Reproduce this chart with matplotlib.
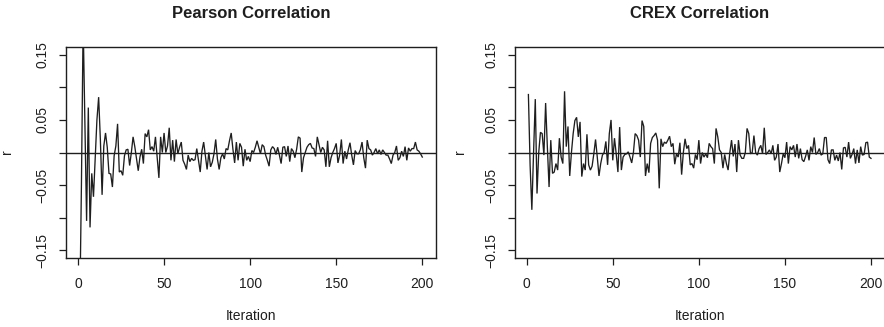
import numpy as np
import matplotlib
matplotlib.use("Agg")
import matplotlib.pyplot as plt

plt.rcParams['font.family'] = ['Liberation Sans', 'DejaVu Sans']

iterations = list(range(1, 201))

pearson_r = [
    -0.25, -0.05, 0.20, 0.05, -0.105, 0.069, -0.115, -0.032, -0.068, -0.01,
    0.05, 0.085, 0.02, -0.065, 0.01, 0.03, 0.008, -0.032, -0.033, -0.053,
    -0.005, 0.01, 0.044, -0.03, -0.028, -0.035, -0.005, 0.004, 0.005, -0.02,
    0.0, 0.024, 0.009, -0.01, -0.028, -0.007, 0.005, -0.017, 0.029, 0.024,
    0.035, 0.004, 0.009, 0.002, 0.024, -0.007, -0.039, 0.024, 0.0, 0.03,
    0.0, 0.01, 0.038, -0.012, 0.019, -0.014, 0.02, -0.002, 0.008, 0.016,
    -0.012, -0.018, -0.026, -0.004, -0.014, -0.009, -0.012, -0.011, 0.006, -0.012,
    -0.03, 0.002, 0.016, -0.005, -0.026, 0.0, -0.022, -0.015, -0.002, 0.02,
    -0.01, -0.026, -0.008, -0.002, -0.01, 0.006, 0.004, 0.018, 0.03, 0.005,
    -0.016, 0.016, -0.012, 0.014, 0.008, -0.021, 0.005, -0.012, -0.006, -0.014,
    0.003, 0.0, 0.008, 0.018, 0.008, -0.002, 0.012, 0.009, -0.004, -0.012,
    -0.021, 0.004, 0.009, 0.006, -0.003, 0.008, -0.004, -0.017, 0.008, 0.009,
    -0.006, 0.01, -0.014, 0.006, 0.002, -0.008, 0.005, 0.024, 0.022, -0.03,
    -0.008, 0.0, 0.008, 0.012, 0.014, 0.007, 0.006, -0.006, 0.024, 0.012,
    0.0, 0.008, 0.004, -0.022, 0.018, -0.022, -0.008, 0.0, 0.006, 0.014,
    -0.016, -0.004, 0.02, -0.017, 0.002, -0.01, 0.004, 0.015, -0.004, -0.019,
    0.003, -0.002, -0.002, 0.004, 0.016, -0.008, -0.024, 0.019, 0.006, 0.004,
    -0.004, 0.0, 0.006, -0.002, 0.004, -0.003, 0.004, 0.0, -0.004, -0.004,
    -0.01, -0.017, -0.004, 0.0, 0.01, -0.012, -0.008, 0.002, -0.006, 0.009,
    -0.012, 0.007, 0.002, 0.006, 0.006, 0.016, 0.004, 0.002, -0.002, -0.007,
]

crex_r = [
    0.089, -0.02, -0.088, 0.0, 0.082, -0.063, 0.0, 0.031, 0.029, -0.004,
    0.076, 0.009, -0.053, 0.019, -0.032, -0.03, -0.017, -0.027, 0.022, -0.007,
    -0.017, 0.094, 0.009, 0.04, -0.036, 0.0, 0.029, 0.049, 0.054, 0.024,
    0.047, -0.037, -0.017, -0.027, 0.028, -0.019, -0.027, -0.021, -0.002, 0.02,
    -0.007, -0.036, -0.017, -0.004, 0.0, 0.017, -0.019, 0.029, 0.05, -0.012,
    0.022, -0.002, -0.03, 0.039, -0.027, -0.007, -0.003, -0.002, 0.001, -0.007,
    -0.016, 0.0, 0.029, 0.026, 0.019, -0.007, 0.049, 0.04, -0.036, -0.017,
    -0.031, 0.014, 0.023, 0.026, 0.03, 0.019, -0.055, 0.021, 0.009, 0.016,
    0.014, 0.019, 0.025, 0.009, 0.014, -0.018, -0.002, -0.007, 0.015, -0.034,
    0.0, 0.021, 0.006, 0.011, -0.019, -0.017, -0.024, -0.003, -0.011, 0.019,
    -0.017, 0.0, -0.007, -0.002, -0.008, 0.014, 0.009, 0.006, -0.017, 0.037,
    0.024, 0.004, 0.0, -0.024, -0.003, -0.017, -0.027, 0.0, 0.019, -0.006,
    0.013, -0.03, 0.019, -0.004, -0.009, -0.009, 0.0, 0.037, 0.029, -0.002,
    0.0, 0.026, 0.0, -0.004, 0.006, 0.011, -0.002, 0.038, -0.003, 0.0,
    0.004, -0.002, 0.011, -0.012, -0.007, 0.013, -0.03, -0.017, -0.002, -0.008,
    0.016, -0.017, 0.009, 0.004, 0.011, -0.007, 0.013, -0.009, 0.006, -0.011,
    -0.014, -0.006, 0.004, -0.012, 0.009, 0.0, 0.023, -0.003, 0.0, 0.006,
    -0.004, -0.002, 0.023, 0.023, -0.011, -0.017, 0.004, 0.004, -0.012, -0.004,
    -0.013, 0.0, -0.026, 0.007, 0.008, -0.007, 0.016, -0.009, -0.003, 0.006,
    -0.017, 0.004, -0.016, 0.009, -0.004, -0.003, 0.015, 0.016, -0.007, -0.009,
]

titles = ["Pearson Correlation", "CREX Correlation"]
x_ticks = [0, 50, 100, 150, 200]
y_ticks = [-0.15, -0.10, -0.05, 0.0, 0.05, 0.10, 0.15]
y_tick_labels = ["\u22120.15", "", "\u22120.05", "", "0.05", "", "0.15"]
x_label = "Iteration"
y_label = "r"

W, H = 884, 327
fig = plt.figure(figsize=(W / 100, H / 100), dpi=100)
fig.patch.set_facecolor("white")

box_w = 370
box_top, box_bot = 47, 258
lefts = [66, 514.7]
ylab_x = [7.3, 460.3]
ink = "#1e1e1e"

for k, (series, title) in enumerate(zip([pearson_r, crex_r], titles)):
    ax = fig.add_axes([lefts[k] / W, 1 - box_bot / H, box_w / W, (box_bot - box_top) / H])
    ax.plot(iterations, series, color=ink, lw=0.95, solid_joinstyle="miter")
    ax.axhline(0, color=ink, lw=1.0)
    ax.set_xlim(-6.96, 207.96)
    ax.set_ylim(-0.162, 0.162)
    for sp in ax.spines.values():
        sp.set_color(ink)
        sp.set_linewidth(1.0)
    ax.set_xticks(x_ticks)
    ax.set_xticklabels([str(t) for t in x_ticks])
    ax.set_yticks(y_ticks)
    ax.set_yticklabels(y_tick_labels, rotation=90, va="center", ha="right")
    ax.tick_params(axis="both", direction="out", length=5, width=0.9, color=ink,
                   labelsize=10, labelcolor=ink)
    ax.tick_params(axis="x", pad=9)
    ax.tick_params(axis="y", pad=6.8)
    ax.text(0.5, 1 + (box_top - 13) / (box_bot - box_top), title, transform=ax.transAxes,
            ha="center", va="center", fontsize=12, fontweight="bold", color=ink)
    fig.text((lefts[k] + box_w / 2) / W, 1 - 315.5 / H, x_label, ha="center", va="center",
             fontsize=10, color=ink)
    fig.text(ylab_x[k] / W, 1 - 152 / H, y_label, ha="center", va="center",
             rotation=90, fontsize=10, color=ink)

fig.savefig("out.png", dpi=100, facecolor="white")
